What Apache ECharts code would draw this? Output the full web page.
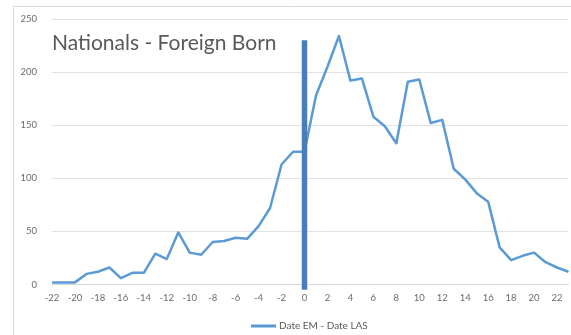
<!DOCTYPE html>
<html>
<head>
<meta charset="utf-8">
<script src="https://cdn.jsdelivr.net/npm/echarts@6/dist/echarts.min.js"></script>
<style>
  html, body { margin: 0; padding: 0; background: #fff; }
  #chart { width: 571px; height: 335px; }
</style>
</head>
<body>
<div id="chart"></div>
<script>
// Months relative to the event, and the count of foreign-born nationals for each
const monthOffsets = ['-22','-21','-20','-19','-18','-17','-16','-15','-14','-13','-12','-11','-10','-9','-8','-7','-6','-5','-4','-3','-2','-1','0',
  '1','2','3','4','5','6','7','8','9','10','11','12','13','14','15','16','17','18','19','20','21','22','23'];
const counts = [2,2,2,10,12,16,6,11,11,29,24,49,30,28,40,41,44,43,55,72,113,125,125,
  178,205,234,192,194,158,149,133,191,193,152,155,109,99,86,78,35,23,27,30,21,16,12];

// Vertical marker at month 0
const markerAt = '0';
const markerRange = [230, -5];

const seriesName = 'Date EM - Date LAS';
const titleText = 'Nationals - Foreign Born';

const font = 'Lato, "Open Sans", sans-serif';

const chart = echarts.init(document.getElementById('chart'), null, { renderer: 'canvas' });
chart.setOption({
  animation: false,
  backgroundColor: '#ffffff',
  graphic: [{
    type: 'rect',
    shape: { x: 13.5, y: 6.5, width: 700, height: 500 },
    style: { fill: null, stroke: '#d9d9d9', lineWidth: 1 },
    silent: true,
    z: -10
  }],
  title: {
    text: titleText,
    left: 47,
    top: 28,
    textStyle: { fontFamily: font, fontSize: 21, fontWeight: 'normal', color: '#595959' }
  },
  legend: {
    data: [seriesName],
    left: 246,
    top: 316,
    icon: 'rect',
    itemWidth: 25,
    itemHeight: 3,
    itemGap: 10,
    textStyle: { fontFamily: font, fontSize: 10, color: '#595959', padding: [0, 0, 0, -2] }
  },
  grid: { left: 52, right: 2.5, top: 19, bottom: 50.5, containLabel: false },
  xAxis: {
    type: 'category',
    data: monthOffsets,
    boundaryGap: false,
    axisLine: { show: true, lineStyle: { color: '#d9d9d9', width: 1 } },
    axisTick: { show: false },
    axisLabel: { interval: 1, color: '#6b6b6b', fontFamily: font, fontSize: 9.5, margin: 8 },
    splitLine: { show: false }
  },
  yAxis: {
    type: 'value',
    min: 0,
    max: 250,
    interval: 50,
    axisLine: { show: false },
    axisTick: { show: false },
    axisLabel: { color: '#6b6b6b', fontFamily: font, fontSize: 9.5, margin: 15 },
    splitLine: { lineStyle: { color: '#e3e3e3', width: 1 } }
  },
  series: [
    {
      name: seriesName,
      type: 'line',
      data: counts,
      symbol: 'none',
      smooth: false,
      color: '#5b9bd5',
      lineStyle: { color: '#5b9bd5', width: 2.5, join: 'round' },
      z: 2
    },
    {
      name: 'marker',
      type: 'line',
      data: [[markerAt, markerRange[0]], [markerAt, markerRange[1]]],
      symbol: 'none',
      clip: false,
      color: '#4a7ebb',
      lineStyle: { color: '#4a7ebb', width: 5.5, cap: 'butt' },
      z: 3
    }
  ]
});
</script>
</body>
</html>
